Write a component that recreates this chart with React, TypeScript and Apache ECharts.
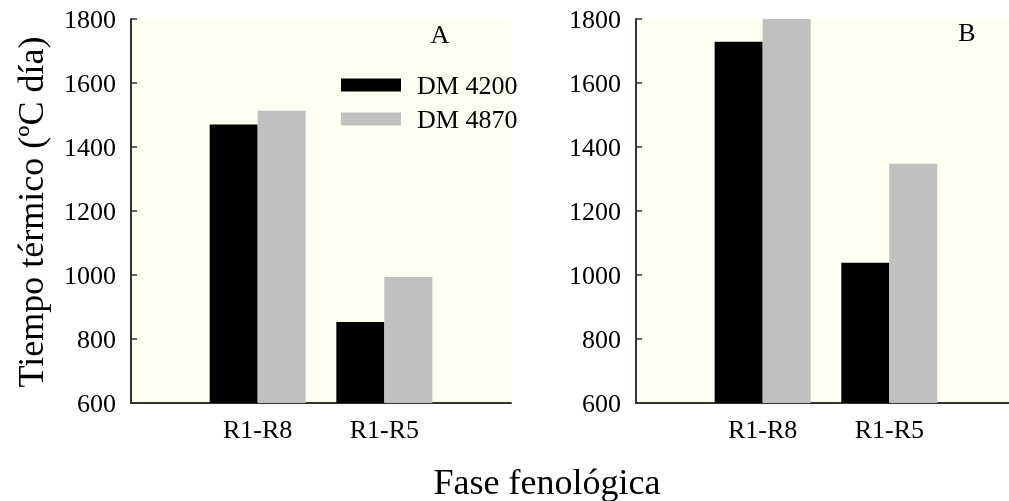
import React, { useEffect, useRef } from "react";
import * as echarts from "echarts";

// Phenological phases (x positions 1 and 2 on each panel)
const categories = ["R1-R8", "R1-R5"];
const seriesNames = ["DM 4200", "DM 4870"];

// Thermal time (ºC día), panel A
const panelA_DM4200 = [1470, 853];
const panelA_DM4870 = [1513, 994];

// Thermal time (ºC día), panel B
const panelB_DM4200 = [1729, 1038];
const panelB_DM4870 = [1800, 1348];

const yTicks = { min: 600, max: 1800, interval: 200 };
const panelLetters = ["A", "B"];

const FONT = "'Liberation Serif', 'Times New Roman', serif";
const BG = "#fefef1";
const AXIS = "#333333";

export default function App() {
  const ref = useRef<HTMLDivElement>(null);

  useEffect(() => {
    if (!ref.current) return;
    const chart = echarts.init(ref.current, undefined, { renderer: "svg" });

    // Panel B runs off the right edge of the page, so its x range is cut short
    const grids = [
      { left: 131, top: 19, width: 380, height: 384 },
      { left: 636, top: 19, width: 373, height: 384 },
    ];
    const xMax = [3, 2.945];

    const xAxes = grids.map((_, i) => ({
      type: "value" as const,
      gridIndex: i,
      min: 0,
      max: xMax[i],
      interval: 1,
      axisLine: { show: true, lineStyle: { color: AXIS, width: 2 } },
      axisTick: { show: false },
      splitLine: { show: false },
      axisLabel: {
        margin: 13,
        color: "#000",
        fontFamily: FONT,
        fontSize: 26,
        showMaxLabel: false,
        formatter: (v: number) => categories[v - 1] ?? "",
      },
    }));

    const yAxes = grids.map((_, i) => ({
      type: "value" as const,
      gridIndex: i,
      min: yTicks.min,
      max: yTicks.max,
      interval: yTicks.interval,
      axisLine: { show: true, lineStyle: { color: AXIS, width: 2 } },
      axisTick: { show: true, inside: true, length: 6, lineStyle: { color: AXIS, width: 1.5 } },
      splitLine: { show: false },
      axisLabel: {
        margin: 15,
        color: "#000",
        fontFamily: FONT,
        fontSize: 26,
        formatter: (v: number) => String(v),
      },
    }));

    const toPoints = (vals: number[]) => vals.map((v, i) => [i + 1, v]);

    const panels = [
      [panelA_DM4200, panelA_DM4870],
      [panelB_DM4200, panelB_DM4870],
    ];
    const colors = ["#000000", "#c0c0c0"];

    const series: any[] = [];
    panels.forEach((pair, gi) => {
      pair.forEach((vals, si) => {
        series.push({
          type: "bar",
          name: seriesNames[si],
          xAxisIndex: gi,
          yAxisIndex: gi,
          data: toPoints(vals),
          barWidth: 48,
          barGap: "0%",
          itemStyle: { color: colors[si] },
          emphasis: { disabled: true },
        });
      });
    });

    const textStyle = (text: string, size: number) => ({
      text,
      fill: "#000",
      font: `${size}px ${FONT}`,
      align: "center",
      verticalAlign: "middle",
      textAlign: "center",
      textVerticalAlign: "middle",
    });

    chart.setOption({
      animation: false,
      grid: grids.map((g) => ({
        ...g,
        show: true,
        backgroundColor: BG,
        borderWidth: 0,
        containLabel: false,
      })),
      xAxis: xAxes,
      yAxis: yAxes,
      legend: {
        orient: "vertical",
        left: 341,
        top: 72,
        padding: 0,
        itemWidth: 60,
        itemHeight: 13,
        itemGap: 8,
        icon: "rect",
        data: seriesNames,
        textStyle: {
          color: "#000",
          fontFamily: FONT,
          fontSize: 26,
          lineHeight: 26,
          padding: [0, 0, 0, 11],
        },
        selectedMode: false,
      },
      graphic: [
        { type: "text", x: 440, y: 34, style: textStyle(panelLetters[0], 26) },
        { type: "text", x: 967, y: 32, style: textStyle(panelLetters[1], 26) },
        {
          type: "text",
          x: 31,
          y: 212,
          rotation: Math.PI / 2,
          style: textStyle("Tiempo térmico (ºC día)", 36),
        },
        { type: "text", x: 547, y: 482, style: textStyle("Fase fenológica", 36) },
      ],
      series,
    });

    return () => chart.dispose();
  }, []);

  return (
    <div
      ref={ref}
      style={{ position: "fixed", left: 0, top: 0, width: 1009, height: 501 }}
    />
  );
}
